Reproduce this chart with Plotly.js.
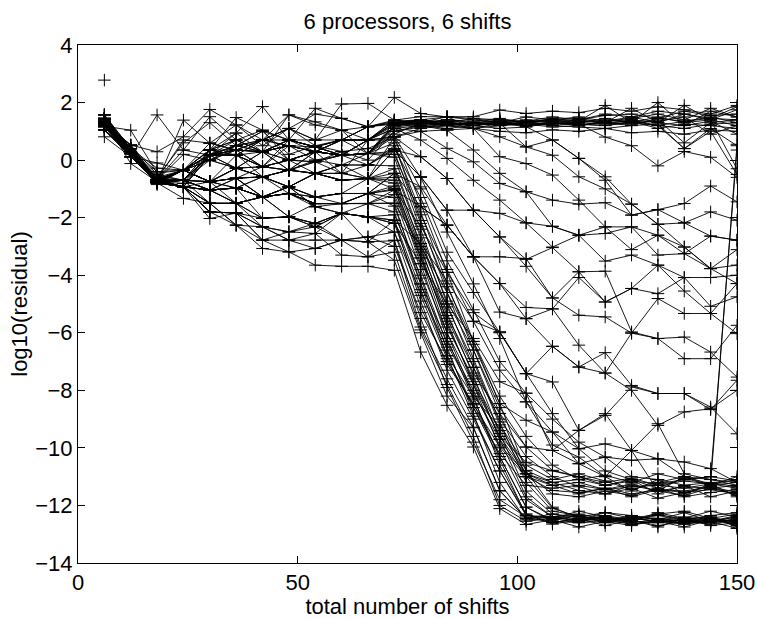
<!DOCTYPE html>
<html>
<head>
<meta charset="utf-8">
<script src="https://cdn.plot.ly/plotly-3.0.1.min.js"></script>
<style>
  html, body { margin: 0; padding: 0; background: #ffffff; }
  #chart { width: 758px; height: 619px; }
</style>
</head>
<body>
<div id="chart"></div>
<script>
// Total number of shifts at which the residual was recorded (6 shifts per sweep).
const shifts = [6, 12, 18, 24, 30, 36, 42, 48, 54, 60, 66, 72, 78, 84, 90, 96, 102, 108, 114, 120, 126, 132, 138, 144, 150];

// log10(residual) per run.
// Runs that stall near 10^1.
const stalledRuns = [
  [1.45,0.25,-0.70,-0.35,0.20,0.50,1.00,0.70,0.46,0.17,0.70,1.39,1.25,1.30,1.20,1.35,1.30,1.25,1.40,1.30,1.20,1.45,1.35,1.50,1.30],
  [1.30,0.40,-0.79,-0.93,0.35,0.94,0.29,0.50,0.29,0.70,1.16,1.35,1.40,1.20,1.30,1.25,1.40,1.30,1.20,1.35,1.50,1.30,1.60,1.40,1.75],
  [1.57,0.23,-0.67,0.70,0.59,1.22,0.70,1.57,1.22,1.04,1.16,1.30,1.20,1.10,1.20,1.10,1.15,1.30,1.25,1.20,1.35,1.10,1.25,1.20,1.10],
  [1.18,1.04,-0.45,-0.35,0.17,0.17,-0.23,0.70,0.70,1.95,1.97,1.39,1.30,1.35,1.20,1.30,1.20,1.35,1.30,1.25,1.40,1.30,1.20,1.35,0.90],
  [1.33,0.52,0.29,0.81,1.76,1.22,0.50,1.10,1.60,1.45,1.16,2.18,1.62,1.50,1.45,1.40,1.35,1.50,1.40,1.55,1.60,1.45,1.70,1.55,1.60],
  [0.81,0.12,1.57,0.35,0.17,0.94,1.86,0.70,0.46,0.70,0.70,0.81,1.00,1.05,1.10,1.00,0.95,1.05,1.00,1.10,0.95,1.00,0.90,1.05,1.00],
  [1.40,-0.12,-0.75,1.39,0.59,0.35,0.29,1.57,1.33,1.04,0.23,1.10,1.20,1.25,1.30,1.20,1.25,1.15,1.20,1.30,1.25,1.40,0.60,1.30,1.40],
  [1.25,0.30,-0.70,-0.70,0.35,1.48,1.04,0.00,0.29,0.17,0.70,1.20,1.30,1.40,1.35,1.45,1.30,1.40,1.50,1.35,1.45,1.60,1.40,1.80,1.50],
  [1.15,0.40,-0.28,-0.35,-0.75,0.17,0.70,1.10,0.70,0.70,0.23,1.30,1.40,1.30,1.45,1.30,1.35,1.20,1.30,1.40,1.30,1.35,1.50,0.90,1.20],
  [1.33,0.52,-0.67,0.35,1.51,0.70,0.29,0.70,1.80,1.45,1.16,1.25,1.15,1.20,1.10,1.20,1.30,1.20,1.15,1.10,1.20,1.25,0.40,1.10,0.50],
  [1.45,0.23,-0.75,-0.93,0.17,-0.28,0.29,-0.35,0.29,-0.46,0.70,1.30,1.35,1.25,1.20,1.30,1.20,1.25,1.35,1.30,1.35,1.20,1.35,1.45,1.85],
  [1.05,0.12,-0.10,-0.35,0.00,0.35,-0.23,0.50,0.00,0.17,0.23,1.15,1.25,1.35,1.30,1.20,1.35,1.40,1.30,1.45,1.30,1.50,1.30,1.40,-0.30],
  [1.57,0.30,-0.60,0.60,1.30,0.50,1.00,0.20,0.50,0.30,0.40,0.81,1.10,1.20,1.25,1.35,1.20,1.30,1.25,1.20,1.30,1.20,1.10,1.25,1.30],
  [1.33,0.23,-0.75,-0.81,0.20,0.20,-0.58,-0.35,-0.06,0.29,0.00,1.00,1.15,1.25,1.30,1.25,1.30,1.35,1.40,1.60,1.50,1.70,1.60,1.45,1.40],
  [1.18,0.20,-0.70,0.20,0.00,0.50,0.70,1.10,0.50,0.70,1.16,1.39,1.51,1.51,1.51,1.74,1.62,1.70,1.65,1.80,1.70,1.85,1.75,1.60,1.90],
  [1.45,0.40,-0.70,-0.35,0.17,0.70,0.29,0.70,0.29,0.17,0.23,0.90,1.30,1.20,1.30,1.40,1.30,1.45,1.35,1.90,1.30,2.00,1.20,1.70,1.50],
  [1.30,0.23,-0.79,-0.70,0.35,0.17,0.70,0.00,-0.06,0.17,0.23,1.20,1.40,1.50,1.40,1.30,1.50,1.40,1.45,1.30,1.80,1.30,1.90,1.40,1.20]
];

// Runs that leave the stalled level and decrease slowly.
const slowDecayRuns = [
  [1.40,0.23,-0.70,-0.35,-0.75,-0.28,-0.58,-0.35,-0.46,-0.17,0.23,1.00,1.20,1.04,0.35,-0.46,-1.10,-1.39,-1.53,-1.48,-1.91,-1.72,-2.18,-1.80,-2.09],
  [1.25,0.40,-0.55,-0.70,0.17,0.35,0.29,0.50,0.29,0.70,0.70,1.10,0.70,0.06,-0.70,-1.39,-2.18,-2.30,-2.61,-2.32,-3.11,-2.61,-3.02,-3.77,-3.11],
  [1.33,0.12,-0.79,-0.93,-0.75,-0.63,-0.23,0.00,-0.46,-0.70,-0.64,0.81,0.12,-0.64,-1.74,-2.67,-3.45,-3.04,-3.88,-4.93,-4.46,-3.65,-4.55,-5.33,-4.29],
  [1.18,0.30,-0.67,-0.35,0.35,0.70,1.04,0.70,0.46,0.17,0.70,1.30,1.30,1.20,1.10,0.81,0.46,0.17,-0.58,-1.00,-1.53,-2.23,-2.18,-2.64,-2.78],
  [1.45,0.40,-0.75,-0.93,-1.04,-0.97,-1.28,-0.93,-1.28,-1.16,-0.64,0.35,-0.58,-1.74,-3.36,-4.29,-5.12,-5.17,-6.43,-7.40,-6.01,-6.20,-6.15,-6.67,-7.54],
  [1.05,0.23,-0.85,-0.35,0.17,-0.28,0.29,-0.35,0.29,0.17,0.23,1.20,1.30,1.51,1.10,0.12,-0.12,-0.52,-1.39,-2.32,-2.32,-2.61,-3.25,-3.77,-3.65],
  [1.30,0.12,-0.79,-0.70,0.00,0.35,0.70,1.10,0.70,1.04,0.70,1.39,1.20,1.30,1.10,1.28,0.46,0.70,0.06,-0.70,-1.91,-1.72,-1.51,-0.90,-1.45],
  [1.57,0.40,-0.70,-0.93,-1.50,-1.50,-1.28,-1.16,-1.51,-1.51,-1.16,-0.46,-0.93,-2.26,-3.36,-5.28,-5.51,-6.47,-7.19,-6.69,-7.83,-8.11,-8.11,-8.58,-9.51],
  [1.18,0.52,-0.75,-0.35,-0.75,-0.97,-0.58,-0.93,-0.46,-0.46,-0.64,0.35,-0.58,-1.74,-1.74,-2.67,-3.69,-4.79,-5.39,-5.45,-6.01,-4.81,-5.33,-5.33,-6.03],
  [1.40,0.23,-0.67,-0.70,-1.04,-0.63,-1.28,-1.16,-1.62,-1.85,-1.51,-1.04,-1.62,-2.26,-3.36,-4.29,-5.51,-5.17,-4.08,-4.93,-4.46,-4.64,-4.08,-5.08,-4.75],
  [1.25,0.12,-0.79,-0.93,-1.80,-1.84,-2.02,-1.97,-2.20,-1.85,-1.97,-2.09,-2.90,-4.20,-5.60,-5.97,-7.42,-7.71,-9.39,-8.87,-7.88,-8.11,-8.11,-8.67,-7.65],
  [1.33,0.30,-0.70,-0.35,0.35,0.17,-0.23,0.00,0.29,0.17,0.70,1.10,1.00,0.41,-0.06,-0.81,-1.10,-2.30,-2.61,-3.51,-3.30,-3.65,-4.08,-4.08,-4.00],
  [1.45,0.40,-0.75,-0.70,-0.75,-0.28,-0.58,-0.35,-0.46,-0.70,-0.64,-0.46,-1.62,-2.26,-3.36,-3.36,-3.42,-4.79,-3.88,-3.86,-5.97,-6.20,-6.90,-6.90,-5.74],
  [1.18,0.23,-0.70,-0.93,-1.04,-1.50,-1.28,-1.97,-1.51,-1.51,-1.16,-1.04,-2.30,-3.90,-5.30,-5.97,-7.42,-6.47,-7.19,-7.40,-8.00,-9.22,-8.75,-8.64,-8.00],
  [1.05,0.12,-0.79,-0.35,-0.75,-0.63,-0.58,-0.93,-0.46,-0.17,-0.17,0.35,0.12,-0.64,-1.74,-1.85,-2.18,-3.02,-2.61,-2.55,-2.32,-3.30,-3.25,-2.64,-2.78],
  [1.30,0.23,-0.70,-0.70,0.17,0.35,0.29,0.70,0.46,0.70,1.16,1.30,1.40,1.30,1.20,1.28,1.16,0.70,0.06,-0.58,-1.53,-2.23,-3.02,-3.77,-4.29],
  [1.45,0.30,-0.67,-0.35,0.59,0.35,0.70,0.70,0.46,0.17,0.23,1.20,1.30,1.20,1.30,1.20,1.30,1.40,1.25,0.80,0.50,-0.20,0.30,0.10,-0.60],
  [1.30,0.40,-0.79,-0.93,0.17,0.50,0.29,0.50,0.29,0.70,0.70,1.25,1.30,1.40,1.30,1.35,1.20,1.30,1.20,1.35,1.40,1.20,0.40,1.00,-0.50],
  [1.18,0.23,-0.70,-0.70,-1.04,-1.50,-1.28,-1.16,-1.51,-1.51,-1.51,-1.50,-3.00,-4.60,-6.40,-8.46,-9.04,-9.45,-10.03,-9.86,-10.09,-10.38,-10.49,-10.72,-11.20],
  [1.40,0.12,-0.75,-0.93,-1.04,-0.97,-1.28,-0.93,-1.62,-1.85,-1.97,-2.20,-3.60,-5.00,-6.20,-7.70,-8.10,-10.09,-9.39,-8.81,-10.09,-9.16,-10.90,-11.10,-11.30]
];

// Runs that converge fast to about 10^-12.5.
const fastRuns = [
  [1.30,0.30,-0.70,-0.93,-1.80,-2.26,-3.07,-3.19,-3.65,-3.69,-3.69,-3.83,-6.67,-8.52,-9.97,-12.11,-12.66,-12.50,-12.75,-12.55,-12.70,-12.50,-12.65,-12.55,-12.80],
  [1.45,0.23,-0.75,-0.93,-2.03,-1.84,-2.78,-2.78,-2.78,-2.78,-2.84,-3.48,-6.00,-8.20,-9.30,-11.50,-12.45,-12.30,-12.50,-12.25,-12.35,-12.50,-12.25,-12.55,-12.35],
  [1.20,0.23,-0.79,-1.33,-1.50,-1.50,-2.32,-2.49,-2.55,-3.30,-3.36,-2.78,-5.50,-7.90,-9.80,-11.80,-12.40,-12.60,-12.45,-12.70,-12.50,-12.75,-12.45,-12.70,-12.60],
  [1.33,0.40,-0.70,-0.70,-1.04,-0.97,-2.02,-1.97,-2.32,-1.85,-1.97,-2.09,-4.90,-7.30,-9.00,-10.80,-12.35,-12.45,-12.20,-12.40,-12.55,-12.25,-12.45,-12.20,-12.40],
  [1.25,0.12,-0.67,-0.35,-0.75,-1.50,-1.28,-1.16,-1.51,-1.51,-1.51,-1.50,-4.30,-6.80,-8.90,-10.80,-12.30,-12.65,-12.50,-12.45,-12.65,-12.55,-12.75,-12.50,-12.65],
  [1.05,0.30,-0.70,-0.93,-1.80,-1.84,-2.32,-2.49,-2.20,-2.78,-2.67,-2.50,-5.10,-7.10,-8.46,-10.30,-12.06,-12.50,-12.35,-12.60,-12.40,-12.60,-12.45,-12.40,-12.75],
  [1.57,0.40,-0.75,-0.70,-1.50,-2.26,-2.78,-3.19,-3.07,-2.78,-2.84,-2.80,-5.80,-7.60,-9.28,-11.48,-12.45,-12.40,-12.55,-12.35,-12.50,-12.45,-12.55,-12.65,-12.50],
  [1.15,0.12,-0.79,-0.93,-1.04,-0.63,-1.28,-0.93,-1.62,-1.51,-1.16,-0.46,-3.00,-5.60,-7.80,-10.00,-11.80,-12.40,-12.30,-12.45,-12.55,-12.30,-12.50,-12.35,-12.25],
  [1.40,0.23,-0.70,-0.35,-0.75,-0.28,-0.58,-0.35,-0.46,-0.70,-0.64,-1.00,-3.60,-6.20,-8.30,-10.30,-12.06,-12.55,-12.60,-12.50,-12.65,-12.55,-12.60,-12.50,-12.55],
  [1.30,0.52,-0.50,-0.70,0.17,0.35,0.29,0.00,0.29,0.17,0.23,0.10,-2.40,-5.00,-7.20,-9.50,-11.50,-12.30,-12.40,-12.25,-12.45,-12.30,-12.20,-12.45,-12.30],
  [1.18,0.23,-0.75,-0.93,0.17,0.17,-0.23,-0.35,-0.06,-0.46,-0.17,0.50,-1.80,-4.30,-6.60,-8.80,-11.00,-12.10,-12.40,-12.50,-12.45,-12.55,-12.50,-12.60,-12.50],
  [1.45,0.30,-0.70,-0.35,0.00,-0.28,-0.23,-0.35,-0.46,-0.17,-0.64,-0.80,-3.40,-6.00,-8.20,-10.60,-12.30,-12.60,-12.45,-12.55,-12.35,-12.50,-12.60,-12.45,-12.65],
  [1.33,0.12,-0.79,-0.70,-1.04,-0.97,-0.58,-1.16,-1.28,-1.16,-1.16,-1.60,-4.10,-6.60,-8.60,-10.40,-12.35,-12.40,-12.55,-12.45,-12.60,-12.50,-12.40,-12.55,-12.40],
  [1.25,0.40,-0.40,-0.35,0.35,0.35,0.70,0.50,0.29,0.17,0.23,0.60,-2.10,-4.60,-6.90,-9.10,-11.20,-12.20,-12.35,-12.50,-12.40,-12.45,-12.55,-12.40,-12.60],
  [1.05,0.23,-0.70,-0.93,-1.50,-1.50,-2.02,-1.97,-2.32,-1.85,-1.97,-2.50,-4.60,-6.50,-8.80,-11.20,-12.50,-12.45,-12.60,-12.55,-12.50,-12.70,-12.55,-12.60,-12.45],
  [1.40,0.30,-0.67,-0.70,-0.75,-0.63,-1.28,-0.93,-0.46,-0.70,-0.64,-0.30,-2.70,-5.30,-7.50,-9.70,-11.70,-12.40,-12.50,-12.40,-12.55,-12.60,-12.50,-12.45,-12.70],
  [1.30,0.12,-0.75,-0.93,-1.80,-1.84,-2.32,-2.78,-3.07,-2.78,-3.36,-3.20,-5.90,-7.80,-9.60,-12.00,-12.55,-12.45,-12.35,-12.60,-12.45,-12.55,-12.65,-12.50,-12.55],
  [1.18,0.40,-0.70,-0.35,0.17,0.50,0.29,0.70,0.46,0.17,0.23,0.80,-1.50,-3.90,-6.30,-8.46,-10.80,-12.06,-12.45,-12.40,-12.50,-12.35,-12.50,-12.55,-12.40]
];

// Runs that level off near 10^-11.3.
const plateauRuns = [
  [1.25,0.23,-0.70,-0.93,-1.80,-1.84,-2.78,-2.49,-2.32,-2.78,-2.67,-3.00,-5.30,-7.00,-8.50,-9.97,-11.00,-11.30,-11.60,-11.40,-11.70,-11.45,-11.55,-11.35,-11.65],
  [1.40,0.30,-0.79,-0.70,-1.04,-0.97,-1.28,-1.16,-1.51,-1.51,-1.51,-1.20,-3.40,-5.50,-7.40,-8.81,-9.97,-10.78,-11.00,-11.30,-11.10,-11.40,-11.05,-11.30,-11.00],
  [1.33,0.12,-0.60,-0.35,0.17,0.35,-0.23,0.00,-0.06,0.17,0.23,0.20,-1.90,-3.80,-5.60,-7.30,-8.40,-9.45,-10.55,-11.00,-11.50,-11.10,-11.60,-11.25,-11.70],
  [1.18,0.40,-0.75,-0.35,0.35,0.70,0.29,0.50,0.46,0.70,0.70,0.70,-1.00,-3.20,-4.60,-6.00,-7.42,-8.81,-10.03,-10.80,-11.10,-11.60,-11.30,-11.70,-11.50],
  [1.45,0.23,-0.67,-0.93,-1.50,-2.26,-2.32,-2.78,-2.55,-1.85,-2.84,-2.09,-4.50,-6.80,-8.23,-9.28,-10.78,-11.20,-11.48,-11.60,-11.40,-11.75,-11.55,-11.45,-11.60],
  [1.05,0.12,-0.79,-0.70,-0.75,-0.63,-0.58,-0.35,-0.46,-0.46,-0.64,-0.60,-2.90,-5.10,-7.00,-9.20,-10.60,-11.10,-10.90,-11.15,-11.45,-11.20,-11.00,-11.25,-11.10],
  [1.30,0.52,-0.70,-0.35,-0.75,-0.28,-0.58,-0.93,-1.28,-1.16,-1.16,-1.30,-3.80,-6.00,-7.80,-9.60,-10.50,-10.80,-11.01,-11.20,-11.05,-11.30,-11.15,-11.25,-11.40],
  [1.57,0.30,-0.75,-0.70,0.17,0.17,0.29,0.00,0.29,0.17,-0.17,-0.20,-2.60,-4.90,-6.60,-8.60,-9.97,-10.09,-10.55,-10.32,-11.00,-11.10,-11.30,-11.20,-11.35],
  [1.25,0.40,-0.70,-0.93,-1.04,-1.50,-2.02,-1.97,-2.20,-1.85,-1.97,-1.90,-4.00,-6.40,-8.10,-9.70,-11.00,-11.48,-11.55,-11.40,-11.60,-11.45,-11.50,-11.35,-11.55],
  [1.40,0.23,-0.67,-0.35,0.00,-0.28,-0.23,-0.35,0.00,-0.17,-0.17,0.40,-1.30,-3.50,-5.20,-7.00,-8.10,-9.00,-9.80,-10.32,-10.43,-10.38,-11.00,-11.10,-11.20],
  [1.18,0.12,-0.79,-0.35,-0.75,-0.97,-1.28,-1.16,-1.51,-1.51,-1.16,-0.90,-3.20,-5.80,-7.60,-9.40,-10.90,-11.30,-11.20,-11.45,-11.25,-11.50,-11.35,-11.40,-11.30],
  [1.33,0.30,-0.75,-0.70,0.17,0.50,0.70,0.50,0.29,0.70,0.70,0.81,-0.60,-2.50,-4.30,-6.20,-8.40,-9.90,-10.32,-11.00,-10.09,-11.50,-11.00,-11.30,-11.20],
  [1.25,0.30,-0.70,-0.93,-1.04,-0.97,-1.28,-1.16,-1.28,-1.51,-1.51,-1.80,-4.30,-6.30,-8.00,-9.90,-10.90,-11.60,-11.70,-11.50,-11.65,-11.40,-11.70,-11.55,-11.45],
  [1.40,0.12,-0.75,-0.35,0.17,0.17,-0.23,0.00,0.29,0.17,0.23,0.30,-2.20,-4.40,-6.30,-8.20,-9.60,-10.60,-11.10,-10.95,-11.20,-10.90,-11.10,-11.00,-11.15],
  [1.18,0.40,-0.70,-0.70,-0.75,-0.63,-0.58,-0.93,-0.46,-0.70,-0.64,-0.70,-3.10,-5.40,-7.20,-9.00,-10.30,-11.00,-11.35,-11.60,-11.30,-11.50,-11.65,-11.40,-11.60]
];

// Runs that converge and then jump back up at the last sweep.
const restartRuns = [
  [1.30,0.23,-0.70,-0.70,-1.04,-0.97,-1.28,-0.93,-1.28,-1.16,-1.16,-1.00,-3.30,-5.70,-7.70,-9.60,-10.90,-11.20,-11.10,-11.30,-11.15,-11.25,-11.10,-11.00,0.35],
  [1.18,0.40,-0.79,-0.93,-1.50,-1.50,-1.28,-1.97,-2.20,-1.85,-1.97,-2.20,-4.70,-6.90,-8.60,-10.20,-11.30,-11.40,-11.30,-11.45,-11.35,-11.30,-11.40,-11.25,0.55]
];

// A run recorded only at its first sweep.
const strayShift = [6];
const strayRun = [2.78];

const allRuns = [].concat(stalledRuns, slowDecayRuns, fastRuns, plateauRuns, restartRuns);

const markerStyle = {
  symbol: 'cross-thin',
  size: 9,
  color: '#000000',
  line: { width: 1, color: '#000000' }
};

const traces = allRuns.map(function (run) {
  return {
    type: 'scatter',
    mode: 'lines+markers',
    x: shifts,
    y: run,
    line: { color: '#000000', width: 0.9 },
    marker: markerStyle,
    hoverinfo: 'x+y',
    showlegend: false
  };
});

traces.push({
  type: 'scatter',
  mode: 'markers',
  x: strayShift,
  y: strayRun,
  marker: markerStyle,
  showlegend: false
});

const axisFont = { family: 'Liberation Sans, Arial, Helvetica, sans-serif', size: 22, color: '#000000' };

const layout = {
  width: 758,
  height: 619,
  margin: { l: 78, r: 21, t: 45, b: 56 },
  paper_bgcolor: '#ffffff',
  plot_bgcolor: '#ffffff',
  font: axisFont,
  showlegend: false,
  title: {
    text: '6 processors, 6 shifts',
    font: axisFont,
    x: 0.5376,
    xanchor: 'center',
    y: 0.966,
    yanchor: 'middle',
    yref: 'container'
  },
  xaxis: {
    range: [0, 150],
    tickvals: [0, 50, 100, 150],
    ticks: 'inside',
    ticklen: 7,
    tickcolor: '#000000',
    showline: true,
    linecolor: '#000000',
    linewidth: 1,
    mirror: 'ticks',
    showgrid: false,
    zeroline: false,
    tickfont: axisFont,
    title: { text: 'total number of shifts', font: axisFont, standoff: 0 }
  },
  yaxis: {
    range: [-14, 4],
    tickvals: [-14, -12, -10, -8, -6, -4, -2, 0, 2, 4],
    ticks: 'inside',
    ticklen: 7,
    tickcolor: '#000000',
    showline: true,
    linecolor: '#000000',
    linewidth: 1,
    mirror: 'ticks',
    showgrid: false,
    zeroline: false,
    tickfont: axisFont,
    title: { text: 'log10(residual)', font: axisFont, standoff: 1 }
  }
};

Plotly.newPlot('chart', traces, layout, { staticPlot: true, displayModeBar: false });
</script>
</body>
</html>
